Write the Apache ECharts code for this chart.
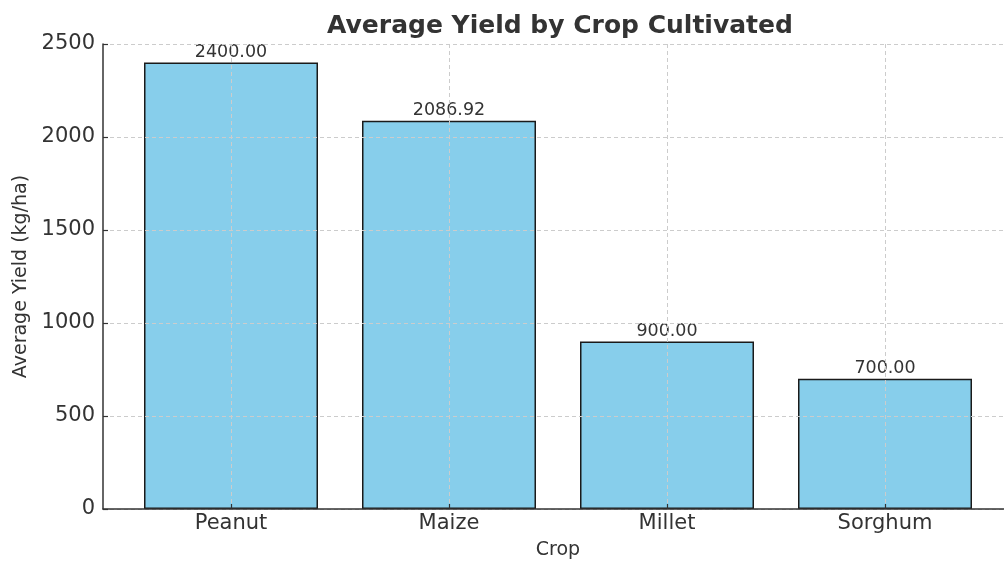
<!DOCTYPE html>
<html>
<head>
<meta charset="utf-8">
<script src="https://cdn.jsdelivr.net/npm/echarts@6/dist/echarts.min.js"></script>
<style>
  html, body { margin: 0; padding: 0; background: #ffffff; }
  #chart { width: 1004px; height: 561px; }
</style>
</head>
<body>
<div id="chart"></div>
<script>
// Crop yields (kg/ha)
const crops = ['Peanut', 'Maize', 'Millet', 'Sorghum'];
const avgYield = [2400.00, 2086.92, 900.00, 700.00];
const yTicks = { min: 0, max: 2500, step: 500 };

const FONT = 'DejaVu Sans';
const INK = '#333333';
const GRID_LINE = { type: [4, 3], color: '#cccccc', width: 1 };

const chart = echarts.init(document.getElementById('chart'), null, { renderer: 'canvas' });

chart.setOption({
  animation: false,
  backgroundColor: '#ffffff',
  title: {
    text: 'Average Yield by Crop Cultivated',
    left: 555,
    top: 9,
    textAlign: 'center',
    textStyle: { fontFamily: FONT, fontSize: 25, fontWeight: 'bold', color: INK }
  },
  grid: [
    // full plotting frame: y axis, horizontal grid, bottom spine
    { left: 103, top: 44, width: 911, height: 465, containLabel: false, outerBoundsMode: 'none' },
    // category band positions: first and last category centres
    { left: 231, top: 44, width: 654, height: 465, containLabel: false, outerBoundsMode: 'none' }
  ],
  xAxis: [
    {
      gridIndex: 0, type: 'value', min: 0, max: 1, z: 5,
      axisLine: { show: true, lineStyle: { color: INK, width: 1.5 } },
      axisTick: { show: false }, axisLabel: { show: false }, splitLine: { show: false }
    },
    {
      gridIndex: 1, type: 'category', data: crops, boundaryGap: false, z: 5,
      name: 'Crop', nameLocation: 'middle', nameGap: 32,
      nameTextStyle: { fontFamily: FONT, fontSize: 19, color: INK },
      axisLine: { show: false },
      axisTick: { show: true, inside: true, length: 5, alignWithLabel: true, lineStyle: { color: INK, width: 1.2 } },
      axisLabel: { fontFamily: FONT, fontSize: 21, color: INK, margin: 4 },
      splitLine: { show: true, lineStyle: GRID_LINE }
    }
  ],
  yAxis: [
    {
      gridIndex: 0, type: 'value', min: yTicks.min, max: yTicks.max, interval: yTicks.step, z: 5,
      name: 'Average Yield (kg/ha)', nameLocation: 'middle', nameGap: 70,
      nameTextStyle: { fontFamily: FONT, fontSize: 19, color: INK },
      axisLine: { show: true, lineStyle: { color: INK, width: 1.5 } },
      axisTick: { show: true, inside: true, length: 5, lineStyle: { color: INK, width: 1.2 } },
      axisLabel: { fontFamily: FONT, fontSize: 21, color: INK, margin: 8, formatter: v => String(v) },
      splitLine: { show: true, lineStyle: GRID_LINE }
    },
    {
      gridIndex: 1, type: 'value', min: yTicks.min, max: yTicks.max, show: false
    }
  ],
  series: [
    {
      type: 'bar',
      xAxisIndex: 1,
      yAxisIndex: 1,
      data: avgYield,
      barWidth: 174,
      clip: false,
      z: 2,
      itemStyle: { color: '#87ceeb', borderColor: '#1a1a1a', borderWidth: 1.5 },
      label: {
        show: true,
        position: 'top',
        distance: 1,
        fontFamily: FONT,
        fontSize: 17.5,
        color: INK,
        formatter: p => p.value.toFixed(2)
      }
    }
  ]
});
</script>
</body>
</html>
